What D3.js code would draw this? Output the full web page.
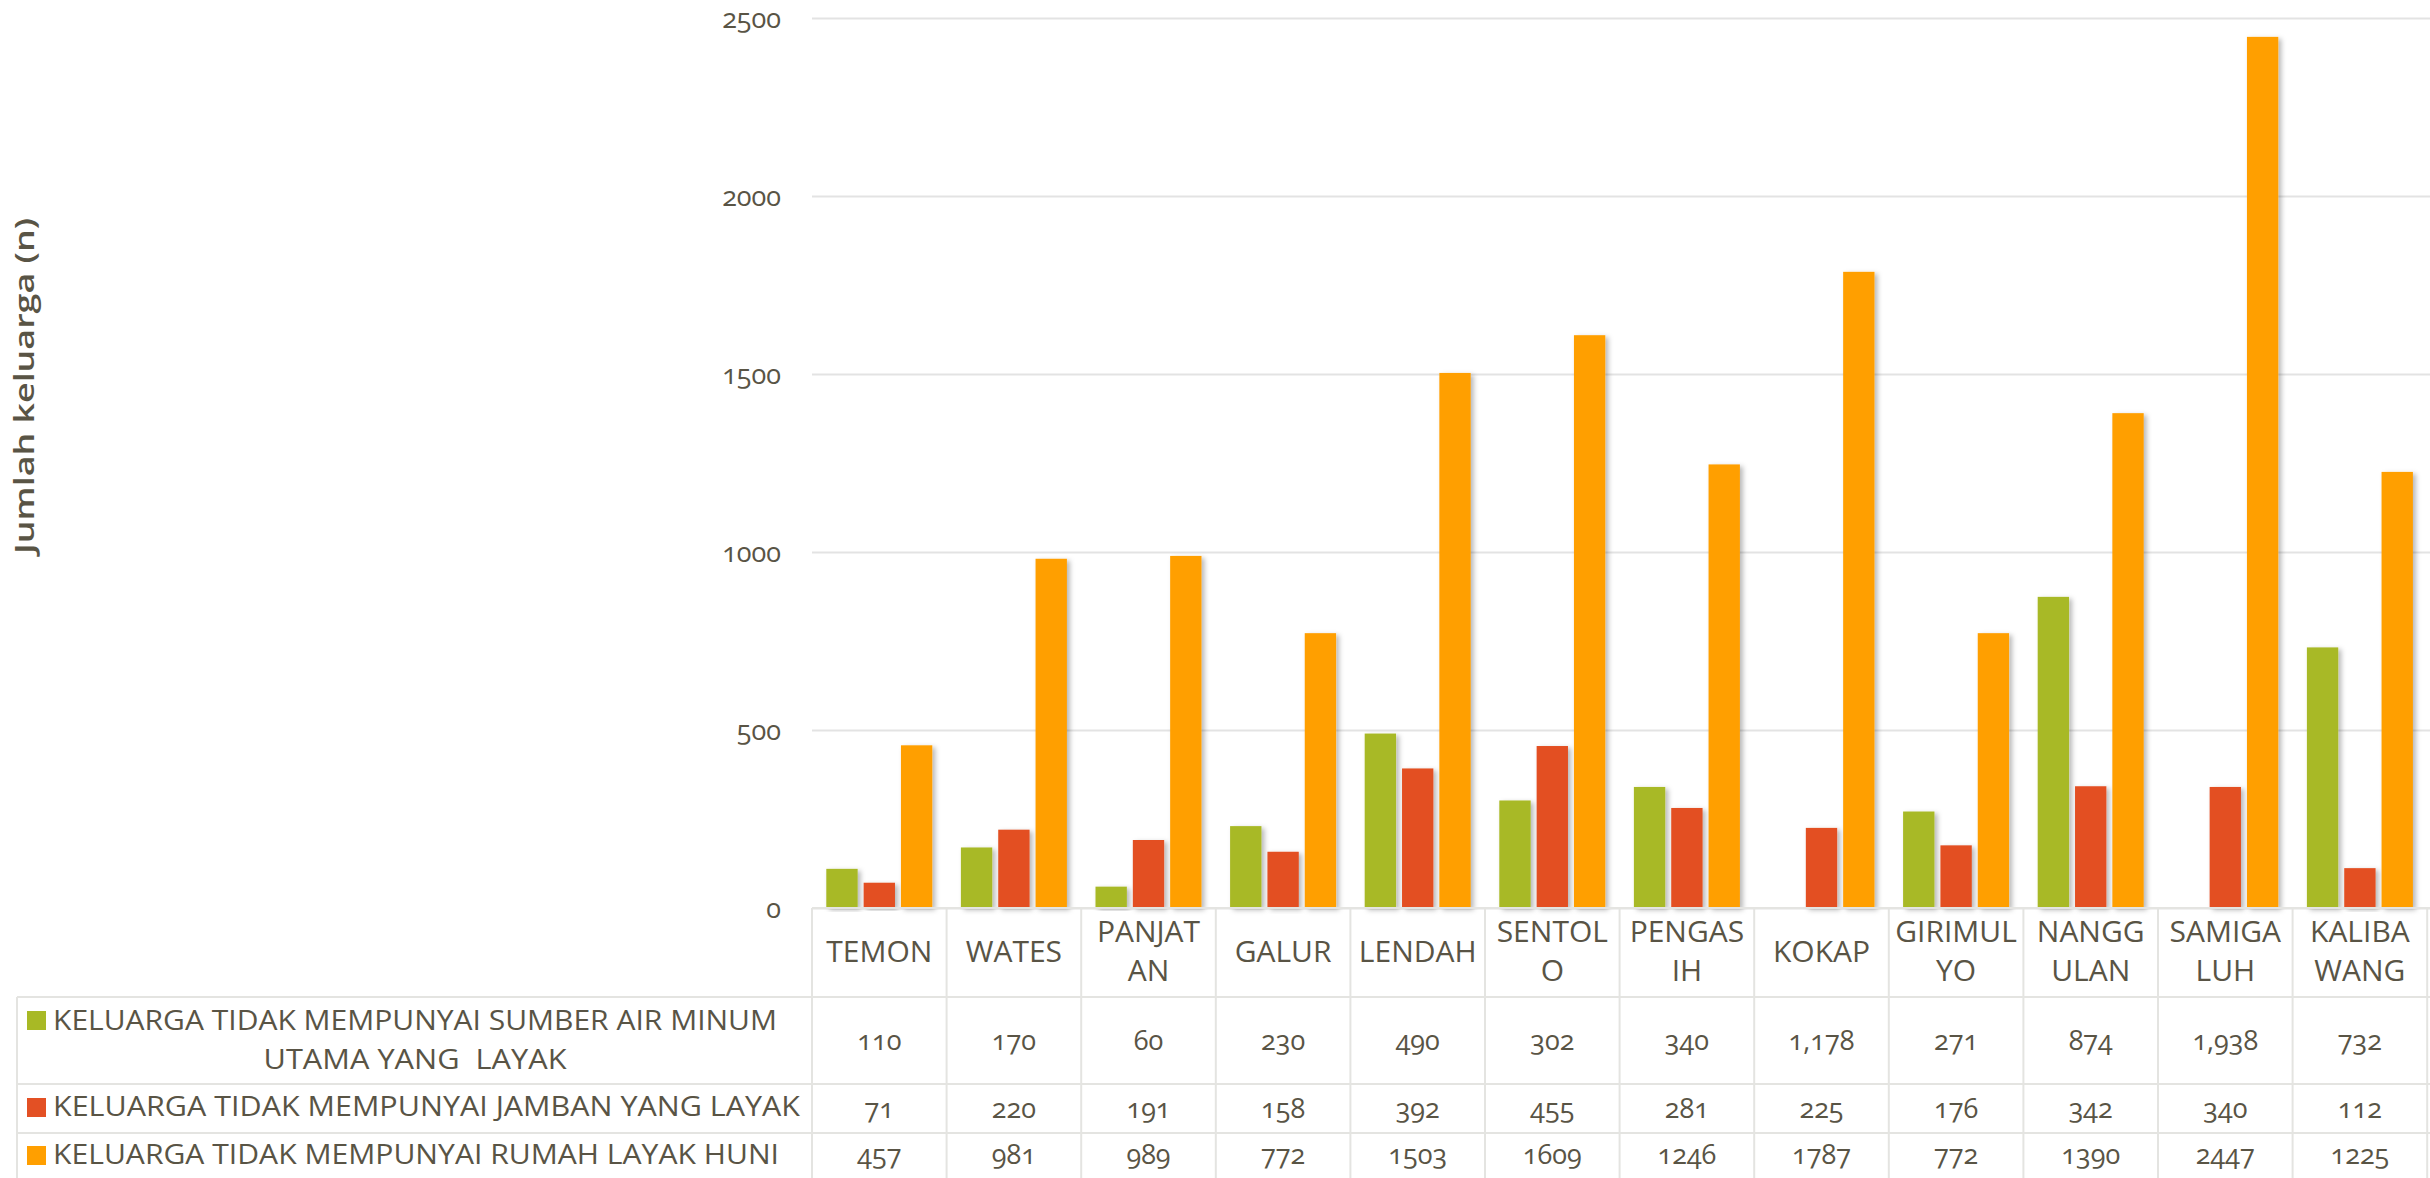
<!DOCTYPE html>
<html>
<head>
<meta charset="utf-8">
<script src="https://cdn.jsdelivr.net/npm/d3@7/dist/d3.min.js"></script>
<style>
  html, body { margin: 0; padding: 0; background: #ffffff; }
  svg { display: block; }
  text { font-family: "Open Sans", "Noto Sans", sans-serif; fill: #595445; font-variant-numeric: oldstyle-nums; }
</style>
</head>
<body>
<svg id="chart" width="2430" height="1178"></svg>
<script>
// Kecamatan (sub-districts), with the way each name wraps inside its table column
const categories = ["TEMON", "WATES", "PANJATAN", "GALUR", "LENDAH", "SENTOLO",
                    "PENGASIH", "KOKAP", "GIRIMULYO", "NANGGULAN", "SAMIGALUH", "KALIBAWANG"];
const categoryLines = [["TEMON"], ["WATES"], ["PANJAT", "AN"], ["GALUR"], ["LENDAH"], ["SENTOL", "O"],
                       ["PENGAS", "IH"], ["KOKAP"], ["GIRIMUL", "YO"], ["NANGG", "ULAN"], ["SAMIGA", "LUH"], ["KALIBA", "WANG"]];

const seriesNames = [
  "KELUARGA TIDAK MEMPUNYAI SUMBER AIR MINUM UTAMA YANG  LAYAK",
  "KELUARGA TIDAK MEMPUNYAI JAMBAN YANG LAYAK",
  "KELUARGA TIDAK MEMPUNYAI RUMAH LAYAK HUNI"
];
const seriesColors = ["#A8B925", "#E35024", "#FF9F00"];

// Families without a proper main drinking-water source.
// Two entries were recorded as text ("1,178", "1,938"): they appear in the table but are not plotted.
const airMinum = [110, 170, 60, 230, 490, 302, 340, "1,178", 271, 874, "1,938", 732];
// Families without a proper latrine
const jamban = [71, 220, 191, 158, 392, 455, 281, 225, 176, 342, 340, 112];
// Families without a habitable house
const rumah = [457, 981, 989, 772, 1503, 1609, 1246, 1787, 772, 1390, 2447, 1225];

const yTicks = [0, 500, 1000, 1500, 2000, 2500];
const yTitle = "Jumlah keluarga (n)";

const seriesValues = [airMinum, jamban, rumah];

const W = 2430, H = 1178;
const plotLeft = 812, colW = 134.6;
const axisY = 908, headerBottom = 997;
const rowBottoms = [1084, 1133, H];
const lineColor = "#E4E4E1";

const svg = d3.select("#chart");

// soft shadow under the bars
const defs = svg.append("defs");
const f = defs.append("filter").attr("id", "barShadow")
  .attr("x", "-30%").attr("y", "-10%").attr("width", "160%").attr("height", "120%");
f.append("feDropShadow").attr("dx", 3).attr("dy", 2).attr("stdDeviation", 2.5)
  .attr("flood-color", "#000").attr("flood-opacity", 0.28);

const x0 = d3.scaleBand().domain(categories).range([plotLeft, plotLeft + colW * categories.length]);
const x1 = d3.scaleBand().domain(d3.range(3)).range([14.3, 120.3]).paddingInner(0.16);
const y = d3.scaleLinear().domain([0, 2500]).range([axisY, 18]);

// value gridlines and tick labels
const yAxis = d3.axisLeft(y).tickValues(yTicks).tickSize(-(W - plotLeft)).tickPadding(31).tickFormat(d3.format("d"));
const gy = svg.append("g").attr("transform", `translate(${plotLeft},0)`).call(yAxis);
gy.select(".domain").remove();
gy.selectAll(".tick line").attr("stroke", "#E3E3E3").attr("stroke-width", 2);
gy.selectAll(".tick text").attr("font-size", 27).attr("fill", "#595445").attr("dy", "0.36em");

// axis title
svg.append("text")
  .attr("transform", "translate(34,386) rotate(-90)")
  .attr("text-anchor", "middle")
  .attr("font-size", 27).attr("font-weight", 600)
  .attr("textLength", 336).attr("lengthAdjust", "spacingAndGlyphs")
  .text(yTitle);

// grouped bars
const groups = svg.append("g").selectAll("g").data(categories).join("g")
  .attr("transform", d => `translate(${x0(d)},0)`);
groups.selectAll("rect")
  .data((c, i) => seriesValues.map((vals, s) => ({ s, v: vals[i] })).filter(d => typeof d.v === "number"))
  .join("rect")
  .attr("x", d => x1(d.s))
  .attr("width", x1.bandwidth())
  .attr("y", d => y(d.v))
  .attr("height", d => y(0) - y(d.v))
  .attr("fill", d => seriesColors[d.s])
  .attr("filter", "url(#barShadow)");

// data table grid
const grid = svg.append("g").attr("stroke", lineColor).attr("stroke-width", 2).attr("fill", "none");
grid.append("line").attr("x1", plotLeft).attr("x2", W).attr("y1", axisY).attr("y2", axisY);
[headerBottom, rowBottoms[0], rowBottoms[1]].forEach(yy =>
  grid.append("line").attr("x1", 17).attr("x2", W).attr("y1", yy).attr("y2", yy));
grid.append("line").attr("x1", 17).attr("x2", 17).attr("y1", headerBottom).attr("y2", H);
categories.concat([null]).forEach((c, i) => {
  const xx = plotLeft + colW * i;
  grid.append("line").attr("x1", xx).attr("x2", xx).attr("y1", axisY).attr("y2", H);
});

// category header cells
const header = svg.append("g").attr("text-anchor", "middle").attr("font-size", 30);
categories.forEach((c, i) => {
  const lines = categoryLines[i];
  const cx = x0(c) + colW / 2;
  const baselines = lines.length === 1 ? [962] : [942, 981];
  lines.forEach((ln, k) => header.append("text").attr("x", cx).attr("y", baselines[k]).text(ln));
});

// value cells
const rowBaselines = [1050, 1118, 1164];
const cells = svg.append("g").attr("text-anchor", "middle").attr("font-size", 27);
seriesValues.forEach((vals, s) => {
  vals.forEach((v, i) => {
    cells.append("text").attr("x", x0(categories[i]) + colW / 2).attr("y", rowBaselines[s])
      .text(typeof v === "number" ? String(v) : v);
  });
});

// legend keys in the row headers
const legend = svg.append("g").attr("font-size", 27);
const keyTops = [1011, 1098, 1146];
const legendLines = [
  [{ t: "KELUARGA TIDAK MEMPUNYAI SUMBER AIR MINUM", x: 53, y: 1030, w: 724, anchor: "start" },
   { t: "UTAMA YANG  LAYAK", x: 415, y: 1069, w: 303, anchor: "middle" }],
  [{ t: seriesNames[1], x: 53, y: 1116, w: 747, anchor: "start" }],
  [{ t: seriesNames[2], x: 53, y: 1164, w: 726, anchor: "start" }]
];
seriesNames.forEach((name, s) => {
  legend.append("rect").attr("x", 27).attr("y", keyTops[s]).attr("width", 19).attr("height", 19)
    .attr("fill", seriesColors[s]);
  legendLines[s].forEach(l => legend.append("text")
    .attr("x", l.x).attr("y", l.y).attr("text-anchor", l.anchor)
    .attr("textLength", l.w).attr("lengthAdjust", "spacingAndGlyphs")
    .style("white-space", "pre")
    .text(l.t));
});
</script>
</body>
</html>
